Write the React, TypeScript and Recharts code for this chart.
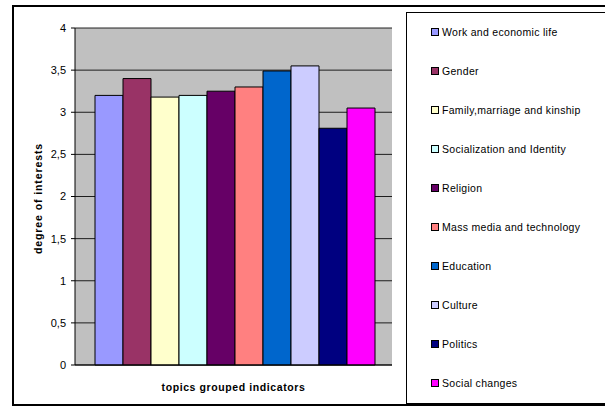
import { Bar, BarChart, CartesianGrid, Legend, XAxis, YAxis } from "recharts";

const topics = [
  "Work and economic life",
  "Gender",
  "Family,marriage and kinship",
  "Socialization and Identity",
  "Religion",
  "Mass media and technology",
  "Education",
  "Culture",
  "Politics",
  "Social changes",
];
const interest = [3.2, 3.4, 3.18, 3.2, 3.25, 3.3, 3.49, 3.55, 2.81, 3.05];
const colors = [
  "#9999FF", "#993366", "#FFFFCC", "#CCFFFF", "#660066",
  "#FF8080", "#0066CC", "#CCCCFF", "#000080", "#FF00FF",
];
const yTicks = [0, 0.5, 1, 1.5, 2, 2.5, 3, 3.5, 4];
const category = "topics grouped indicators";

const row: Record<string, string | number> = { name: category };
topics.forEach((t, i) => { row[t] = interest[i]; });
const data = [row];

const font = "Arial, 'Liberation Sans', sans-serif";

// legend keeps the series order (recharts sorts its payload otherwise)
const LegendBox = () => (
  <div style={{ width: 300, height: 392, border: "1px solid #000", boxSizing: "border-box", fontFamily: font, fontSize: 10.5, letterSpacing: 0.3, color: "#000" }}>
    {topics.map((t, i) => (
      <div key={t} style={{ position: "absolute", left: 25, top: 13 + i * 39, height: 14, display: "flex", alignItems: "center", whiteSpace: "nowrap" }}>
        <span style={{ display: "inline-block", width: 6, height: 6, background: colors[i], border: "1px solid #000", marginRight: 3 }} />
        <span>{t}</span>
      </div>
    ))}
  </div>
);

export default function App() {
  return (
    <div style={{ position: "absolute", left: 0, top: 0, width: 605, height: 407, background: "#fff", overflow: "hidden" }}>
      <div style={{ position: "absolute", left: 12, top: 5, width: 640, height: 401, border: "2px solid #000", boxSizing: "border-box" }} />
      <BarChart
        width={605}
        height={407}
        data={data}
        margin={{ top: 28, right: 213, bottom: 12, left: 0 }}
        barGap={0}
        barCategoryGap={20}
        style={{ position: "absolute", left: 0, top: 0 }}
      >
        <CartesianGrid vertical={false} fill="#C0C0C0" fillOpacity={1} stroke="#000" strokeOpacity={0.85} />
        <XAxis
          dataKey="name"
          height={30}
          tick={false}
          tickLine={false}
          axisLine={{ stroke: "#000" }}
          label={{ value: category, position: "insideBottom", offset: 4, style: { fontFamily: font, fontSize: 10.5, letterSpacing: 0.6, fontWeight: "bold", fill: "#000" } }}
        />
        <YAxis
          width={75}
          domain={[0, 4]}
          ticks={yTicks}
          interval={0}
          tickSize={4}
          tickMargin={5}
          tickFormatter={(v: number) => String(v).replace(".", ",")}
          tick={{ fontFamily: font, fontSize: 11, fill: "#000" }}
          axisLine={{ stroke: "#000" }}
          tickLine={{ stroke: "#000" }}
          label={{ value: "degree of interests", angle: -90, position: "center", dx: 1, dy: 2, style: { fontFamily: font, fontSize: 10.5, letterSpacing: 0.9, fontWeight: "bold", fill: "#000" } }}
        />
        <Legend
          layout="horizontal"
          align="center"
          verticalAlign="middle"
          wrapperStyle={{ position: "absolute", left: 406, top: 12, width: 300, height: 392 }}
          content={<LegendBox />}
        />
        {topics.map((t, i) => (
          <Bar key={t} dataKey={t} fill={colors[i]} stroke="#000" strokeWidth={1} isAnimationActive={false} />
        ))}
      </BarChart>
    </div>
  );
}
